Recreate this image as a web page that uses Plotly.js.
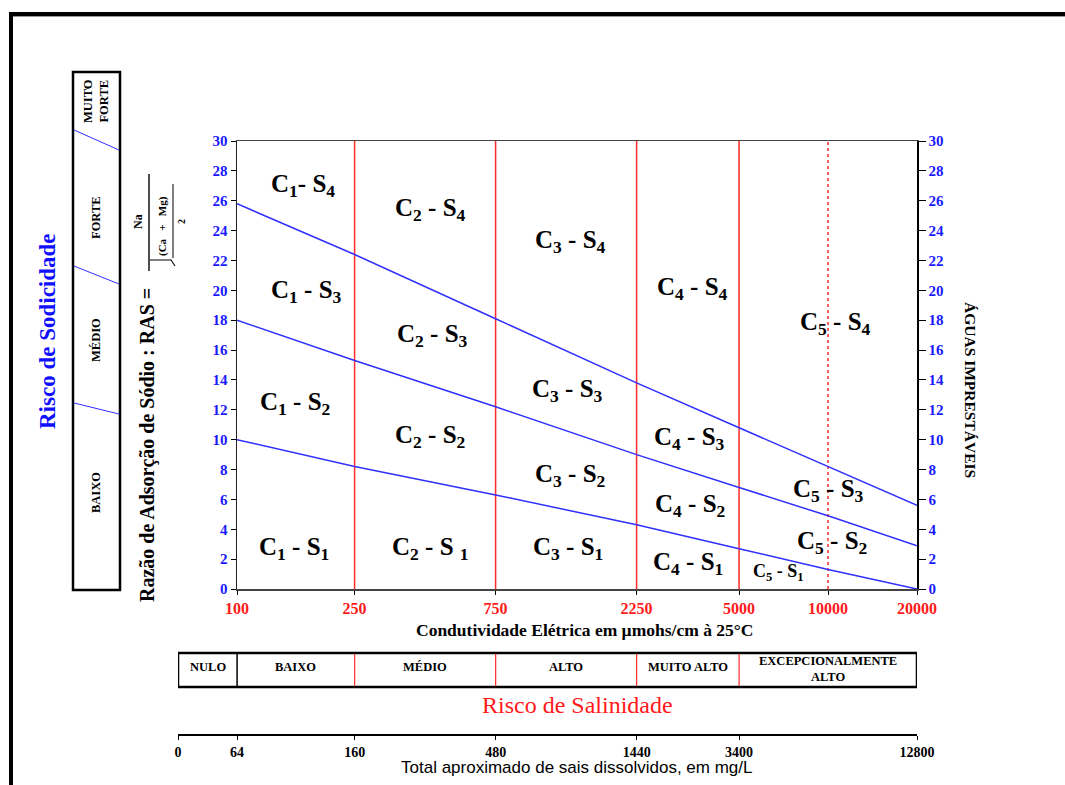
<!DOCTYPE html>
<html><head><meta charset="utf-8">
<script src="https://cdn.plot.ly/plotly-3.0.1.min.js"></script>
<style>html,body{margin:0;padding:0;background:#fff;}#chart{width:1065px;height:785px;}</style>
</head><body><div id="chart"></div>
<script>
// ---------- data ----------
const ecTicks = [100, 250, 750, 2250, 5000, 10000, 20000];
const ecTickText = ['100', '250', '750', '2250', '5000', '10000', '20000'];
const rasTicks = [0, 2, 4, 6, 8, 10, 12, 14, 16, 18, 20, 22, 24, 26, 28, 30];
const lineEC = [100, 250, 750, 2250, 5000, 10000, 20000];
const rasS3S4 = [25.8, 22.4, 18.1, 13.8, 10.8, 8.2, 5.6];
const rasS2S3 = [18.0, 15.3, 12.2, 9.0, 6.8, 4.9, 2.9];
const rasS1S2 = [10.0, 8.2, 6.3, 4.3, 2.7, 1.3, 0.0];
const classBoundsSolid = [250, 750, 2250, 5000];
const classBoundsDashed = [10000];
const regionLabels = [
  'C<sub>1</sub>- S<sub>4</sub>', 'C<sub>2</sub> - S<sub>4</sub>', 'C<sub>3</sub> - S<sub>4</sub>', 'C<sub>4</sub> - S<sub>4</sub>', 'C<sub>5</sub> - S<sub>4</sub>',
  'C<sub>1</sub> - S<sub>3</sub>', 'C<sub>2</sub> - S<sub>3</sub>', 'C<sub>3</sub> - S<sub>3</sub>', 'C<sub>4</sub> - S<sub>3</sub>', 'C<sub>5</sub> - S<sub>3</sub>',
  'C<sub>1</sub> - S<sub>2</sub>', 'C<sub>2</sub> - S<sub>2</sub>', 'C<sub>3</sub> - S<sub>2</sub>', 'C<sub>4</sub> - S<sub>2</sub>', 'C<sub>5</sub> - S<sub>2</sub>',
  'C<sub>1</sub> - S<sub>1</sub>', 'C<sub>2</sub> - S <sub>1</sub>', 'C<sub>3</sub> - S<sub>1</sub>', 'C<sub>4</sub> - S<sub>1</sub>', 'C<sub>5</sub> - S<sub>1</sub>'
];
const regionEC = [167, 450, 1340, 3470, 10570, 172, 457, 1318, 3410, 10000, 157, 450, 1340, 3410, 10300, 156, 450, 1318, 3360, 6780];
const regionRAS = [27.0, 25.4, 23.3, 20.1, 17.8, 19.9, 17.0, 13.3, 10.1, 6.6, 12.4, 10.2, 7.6, 5.6, 3.1, 2.7, 2.7, 2.7, 1.7, 1.1];
const salinityClasses = ['NULO', 'BAIXO', 'MÉDIO', 'ALTO', 'MUITO ALTO', 'EXCEPCIONALMENTE<br>ALTO'];
const salinityEdges = [63.1, 100, 250, 750, 2250, 5000, 20000];
const tdsTickText = ['0', '64', '160', '480', '1440', '3400', '12800'];
const sodicityClasses = ['BAIXO', 'MÉDIO', 'FORTE', 'MUITO<br>FORTE'];

// ---------- geometry helpers ----------
const W = 1065, H = 785, L = 178, R = 148, T = 141, B = 15;
const pw = W - L - R, ph = H - T - B;
const px2x = p => (p - L) / pw;
const py2y = p => (H - B - p) / ph;
const SERIF = 'Liberation Serif, Times New Roman, serif';
const SANS = 'Liberation Sans, Arial, sans-serif';
const BLUE = '#1a1aff', RED = '#ff2a2a';
const NB = '\u00a0';

// ---------- traces ----------
const lineStyle = {color: '#2f2fff', width: 1.5};
const traces = [
  {x: lineEC, y: rasS3S4, mode: 'lines', line: lineStyle, hoverinfo: 'skip', showlegend: false},
  {x: lineEC, y: rasS2S3, mode: 'lines', line: lineStyle, hoverinfo: 'skip', showlegend: false},
  {x: lineEC, y: rasS1S2, mode: 'lines', line: lineStyle, hoverinfo: 'skip', showlegend: false},
  {x: [lineEC[0]], y: [rasS1S2[0]], xaxis: 'x', yaxis: 'y2', mode: 'markers', marker: {opacity: 0}, hoverinfo: 'skip', showlegend: false},
  {x: [salinityEdges[1]], y: [0], xaxis: 'x2', yaxis: 'y', mode: 'markers', marker: {opacity: 0}, hoverinfo: 'skip', showlegend: false}
];

// ---------- shapes ----------
const shapes = [];
// outer frame
shapes.push({type: 'line', xref: 'paper', yref: 'paper', x0: px2x(9), x1: px2x(1066), y0: py2y(14), y1: py2y(14), line: {color: '#000', width: 4}});
shapes.push({type: 'line', xref: 'paper', yref: 'paper', x0: px2x(9), x1: px2x(1066), y0: py2y(16.5), y1: py2y(16.5), line: {color: '#999', width: 1}});
shapes.push({type: 'line', xref: 'paper', yref: 'paper', x0: px2x(11), x1: px2x(11), y0: py2y(12), y1: py2y(790), line: {color: '#000', width: 4}});
// class boundary lines
classBoundsSolid.forEach(v => shapes.push({type: 'line', xref: 'x', yref: 'y', x0: v, x1: v, y0: 0, y1: 30, line: {color: RED, width: 1.5}, layer: 'below'}));
classBoundsDashed.forEach(v => shapes.push({type: 'line', xref: 'x', yref: 'y', x0: v, x1: v, y0: 0, y1: 30, line: {color: RED, width: 1.5, dash: '3px,3px'}, layer: 'below'}));
// sodicity box
shapes.push({type: 'rect', xref: 'paper', yref: 'paper', x0: px2x(73), x1: px2x(120), y0: py2y(72), y1: py2y(590), line: {color: '#000', width: 2.5}});
[[130, 150], [266, 284], [403, 414]].forEach(s => shapes.push({type: 'line', xref: 'paper', yref: 'paper', x0: px2x(74), x1: px2x(119), y0: py2y(s[0]), y1: py2y(s[1]), line: {color: '#3030ff', width: 1}}));
// salinity box
shapes.push({type: 'rect', xref: 'x2', yref: 'paper', x0: salinityEdges[0], x1: salinityEdges[salinityEdges.length - 1], y0: py2y(653), y1: py2y(687), line: {color: '#000', width: 2.5}});
salinityEdges.slice(1, -1).forEach((v, i) => shapes.push({type: 'line', xref: 'x2', yref: 'paper', x0: v, x1: v, y0: py2y(654), y1: py2y(686), line: {color: i === 0 ? '#000' : RED, width: i === 0 ? 1.5 : 1.2}}));
// RAS formula lines (fraction bar + radical, inner bar)
shapes.push({type: 'line', xref: 'paper', yref: 'paper', x0: px2x(149), x1: px2x(149), y0: py2y(174), y1: py2y(271), line: {color: '#000', width: 1.4}});
shapes.push({type: 'path', xref: 'paper', yref: 'paper', path: `M ${px2x(150)} ${py2y(260)} L ${px2x(171)} ${py2y(260)} L ${px2x(175)} ${py2y(266)}`, line: {color: '#000', width: 1.1}});
shapes.push({type: 'line', xref: 'paper', yref: 'paper', x0: px2x(173), x1: px2x(173), y0: py2y(184), y1: py2y(258), line: {color: '#000', width: 1}});

// ---------- annotations ----------
const ann = [];
const base = {showarrow: false, xanchor: 'center', yanchor: 'middle'};
regionLabels.forEach((t, i) => ann.push(Object.assign({}, base, {
  xref: 'x', yref: 'y', x: Math.log10(regionEC[i]), y: regionRAS[i], text: '<b>' + t + '</b>',
  font: {family: SERIF, size: i === regionLabels.length - 1 ? 18 : 25, color: '#000'}
})));
// salinity class texts
salinityClasses.forEach((t, i) => ann.push(Object.assign({}, base, {
  xref: 'x2', yref: 'paper', x: (Math.log10(salinityEdges[i]) + Math.log10(salinityEdges[i + 1])) / 2, y: py2y(i === 5 ? 669 : 667),
  text: '<b>' + t + '</b>', font: {family: SERIF, size: 12.5, color: '#000'}
})));
// sodicity class texts
const sodPos = [493, 340, 218, 101];
sodicityClasses.forEach((t, i) => ann.push(Object.assign({}, base, {
  xref: 'paper', yref: 'paper', x: px2x(96), y: py2y(sodPos[i]), text: '<b>' + t + '</b>', textangle: -90,
  font: {family: SERIF, size: 12.5, color: '#000'}
})));
const txt = (x, y, text, size, color, angle, family) => ann.push(Object.assign({}, base, {
  xref: 'paper', yref: 'paper', x: px2x(x), y: py2y(y), text: text, textangle: angle || 0,
  font: {family: family || SERIF, size: size, color: color || '#000'}
}));
txt(47, 331, '<b>Risco de Sodicidade</b>', 23, '#1010ff', -90);
txt(147, 445, '<b>Razão de Adsorção de Sódio : RAS =</b>', 20, '#000', -90);
txt(138, 222, '<b>Na</b>', 12, '#000', -90);
txt(163, 226, '<b>(Ca' + NB + NB + NB + '+' + NB + NB + NB + 'Mg)</b>', 11, '#000', -90);
txt(181, 222, '<b>2</b>', 10, '#000', -90);
txt(971, 390, '<b>ÁGUAS IMPRESTÁVEIS</b>', 15.5, '#000', 90);
txt(584, 630, '<b>Condutividade Elétrica em µmohs/cm à 25°C</b>', 17.5);
txt(577, 705, 'Risco de Salinidade', 24, '#ff1a1a');
txt(577, 767, 'Total aproximado de sais dissolvidos, em mg/L', 17, '#000', 0, SANS);

// ---------- layout ----------
const tickFontBlue = {family: SERIF, size: 15, color: BLUE, weight: 'bold'};
const layout = {
  width: W, height: H,
  margin: {l: L, r: R, t: T, b: B, pad: 0},
  paper_bgcolor: '#fff', plot_bgcolor: 'rgba(0,0,0,0)',
  showlegend: false,
  xaxis: {
    type: 'log', range: [Math.log10(ecTicks[0]), Math.log10(ecTicks[ecTicks.length - 1])],
    domain: [px2x(237), 1], anchor: 'y',
    tickvals: ecTicks, ticktext: ecTickText, ticks: 'outside', ticklen: 4, tickcolor: '#000',
    tickfont: {family: SERIF, size: 16, color: '#ff1a1a', weight: 'bold'},
    showgrid: false, zeroline: false, showline: true, linecolor: '#444', linewidth: 1.5, mirror: true
  },
  xaxis2: {
    type: 'log', range: [Math.log10(salinityEdges[0]), Math.log10(salinityEdges[salinityEdges.length - 1])],
    domain: [0, 1], anchor: 'free', position: py2y(735),
    tickvals: salinityEdges, ticktext: tdsTickText, ticks: 'outside', ticklen: 4, tickcolor: '#000',
    tickfont: {family: SERIF, size: 14, color: '#000', weight: 'bold'},
    showgrid: false, zeroline: false, showline: true, linecolor: '#000', linewidth: 2
  },
  yaxis: {
    range: [0, 30], domain: [py2y(589), 1], anchor: 'x',
    tickvals: rasTicks, ticks: 'outside', ticklen: 5, tickcolor: '#000', tickfont: tickFontBlue,
    showgrid: false, zeroline: false, showline: true, linecolor: '#222', linewidth: 1.5
  },
  yaxis2: {
    range: [0, 30], overlaying: 'y', side: 'right', anchor: 'x',
    tickvals: rasTicks, ticks: 'outside', ticklen: 7, tickcolor: '#000', tickfont: tickFontBlue,
    showgrid: false, zeroline: false, showline: true, linecolor: '#000', linewidth: 1.5
  },
  shapes: shapes,
  annotations: ann
};
Plotly.newPlot('chart', traces, layout, {displayModeBar: false, staticPlot: true});
</script></body></html>
